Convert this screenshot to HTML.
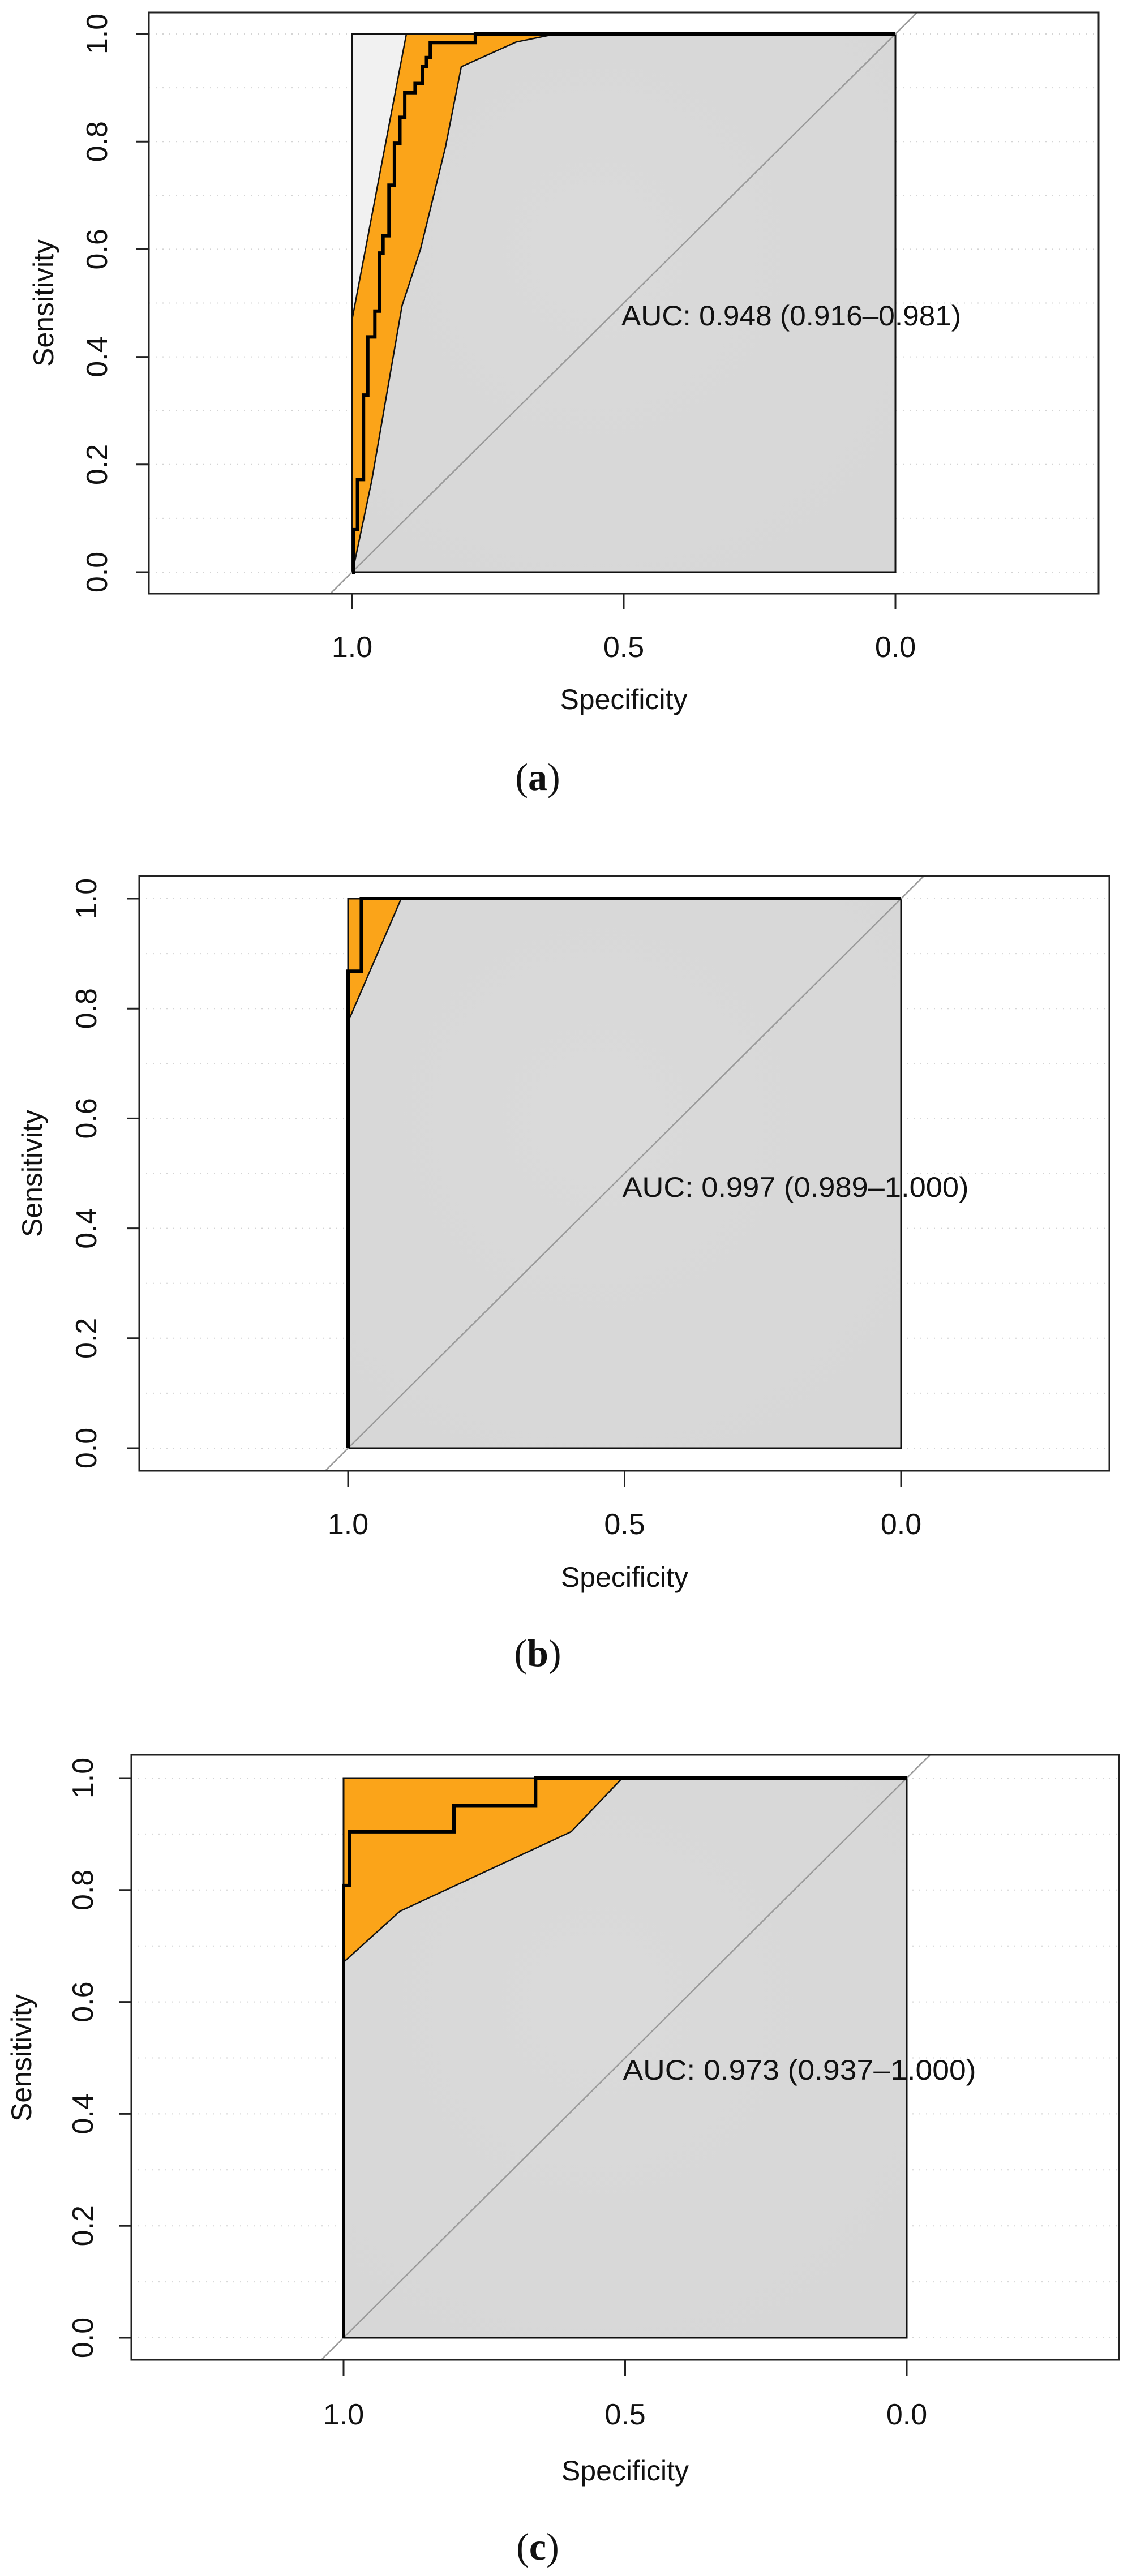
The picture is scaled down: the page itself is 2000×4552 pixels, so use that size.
<!DOCTYPE html>
<html><head><meta charset="utf-8"><title>ROC curves</title>
<style>
html,body{margin:0;padding:0;background:#fff;}
svg{display:block;}
text{font-family:"Liberation Sans",Arial,sans-serif;fill:#111;}
.cap{font-family:"Liberation Serif","Times New Roman",serif;}
</style></head>
<body>
<svg id="fig" width="2000" height="4552" viewBox="0 0 2000 4552" xmlns="http://www.w3.org/2000/svg">
<defs>
<radialGradient id="gg" cx="0.45" cy="0.4" r="0.7">
<stop offset="0" stop-color="#dadada"/><stop offset="1" stop-color="#d7d7d7"/>
</radialGradient>
</defs>
</svg>
<script>
// ---- Panel (a) data ----
const aRocSpec = [1,0.997,0.997,0.99,0.99,0.979,0.979,0.971,0.971,0.958,0.958,0.95,0.95,0.943,0.943,0.932,0.932,0.922,0.922,0.912,0.912,0.903,0.903,0.884,0.884,0.870,0.870,0.863,0.863,0.856,0.856,0.773,0.773,0];
const aRocSens = [0,0,0.079,0.079,0.172,0.172,0.329,0.329,0.437,0.437,0.485,0.485,0.593,0.593,0.625,0.625,0.719,0.719,0.797,0.797,0.845,0.845,0.891,0.891,0.908,0.908,0.94,0.94,0.956,0.956,0.984,0.984,1,1];
const aUpSpec = [1,1,0.9];
const aUpSens = [0,0.469,1];
const aLoSpec = [1,0.995,0.964,0.908,0.874,0.828,0.799,0.698,0.625,0];
const aLoSens = [0,0.02,0.169,0.495,0.6,0.79,0.939,0.985,1,1];
const aLabel = "AUC: 0.948 (0.916\u20130.981)";
// ---- Panel (b) data ----
const bRocSpec = [1,1,0.976,0.976,0];
const bRocSens = [0,0.868,0.868,1,1];
const bUpSpec = [1,1];
const bUpSens = [0,1];
const bLoSpec = [1,1,0.904,0];
const bLoSens = [0,0.776,1,1];
const bLabel = "AUC: 0.997 (0.989\u20131.000)";
// ---- Panel (c) data ----
const cRocSpec = [1,1,0.989,0.989,0.804,0.804,0.659,0.659,0];
const cRocSens = [0,0.808,0.808,0.904,0.904,0.951,0.951,1,1];
const cUpSpec = [1,1];
const cUpSens = [0,1];
const cLoSpec = [1,1,0.9,0.596,0.505,0];
const cLoSens = [0,0.671,0.762,0.904,1,1];
const cLabel = "AUC: 0.973 (0.937\u20131.000)";
// ---- shared tick labels ----
const yTicks = [0,0.2,0.4,0.6,0.8,1.0];
const yTickLabels = ["0.0","0.2","0.4","0.6","0.8","1.0"];
const xTicks = [1.0,0.5,0.0];
const xTickLabels = ["1.0","0.5","0.0"];

const NS = "http://www.w3.org/2000/svg";
const svg = document.getElementById('fig');
function mk(tag, attrs, parent){
  const e = document.createElementNS(NS, tag);
  for (const k in attrs) e.setAttribute(k, attrs[k]);
  (parent||svg).appendChild(e);
  return e;
}

function panel(id, L, letter, rocSp, rocSe, upSp, upSe, loSp, loSe, label){
  const g = mk('g', {});
  
  
  const X = s => L.x0 + (1 - s) * (L.xz - L.x0);
  const Y = v => L.y0 - v * (L.y0 - L.y1);
  const pts = (sp, se) => sp.map((s,i) => X(s).toFixed(1) + ',' + Y(se[i]).toFixed(1));

  for (let k = 0; k <= 10; k++) {
    const gl = mk('line', {x1:L.bx0, x2:L.bx1, y1:Y(k/10), y2:Y(k/10), stroke:'#d4d4d4', 'stroke-width':2, 'stroke-dasharray':'2,10'}, g);
    
    
  }
  const mp = mk('rect', {x:X(1), y:Y(1), width:X(0)-X(1), height:Y(0)-Y(1), fill:'#f1f1f1'}, g);
  
  
  const ap = mk('polygon', {points: pts(rocSp, rocSe).concat([X(0)+','+Y(0)]).join(' '), fill:'url(#gg)'}, g);
  
  
  const ciP = pts(upSp, upSe).concat(pts(loSp.slice().reverse(), loSe.slice().reverse()));
  const ci = mk('polygon', {points: ciP.join(' '), fill:'#fba419', stroke:'#111', 'stroke-width':2.5, 'stroke-linejoin':'round'}, g);
  
  
  const mb = mk('rect', {x:X(1), y:Y(1), width:X(0)-X(1), height:Y(0)-Y(1), fill:'none', stroke:'#111', 'stroke-width':3}, g);
  
  
  const cp = mk('clipPath', {id:'clip'+id}, g);
  mk('rect', {x:L.bx0, y:L.by0, width:L.bx1-L.bx0, height:L.by1-L.by0}, cp);
  const dg = mk('line', {x1:X(1.2), y1:Y(-0.2), x2:X(-0.2), y2:Y(1.2), stroke:'#9a9a9a', 'stroke-width':2.5, 'clip-path':'url(#clip'+id+')'}, g);
  
  
  const rc = mk('polyline', {points: pts(rocSp, rocSe).join(' '), fill:'none', stroke:'#000', 'stroke-width':6, 'stroke-linejoin':'miter'}, g);
  
  
  const ob = mk('rect', {x:L.bx0, y:L.by0, width:L.bx1-L.bx0, height:L.by1-L.by0, fill:'none', stroke:'#222', 'stroke-width':3}, g);
  
  
  yTicks.forEach((v,i) => {
    const t = mk('line', {x1:L.bx0-22, x2:L.bx0, y1:Y(v), y2:Y(v), stroke:'#222', 'stroke-width':3}, g);
    
    
    const tx = mk('text', {x:0, y:0, 'font-size':52, 'text-anchor':'middle', 'dominant-baseline':'central', transform:'translate('+L.ytx+','+Y(v)+') rotate(-90)'}, g);
    tx.textContent = yTickLabels[i];
    
    
  });
  const yt = mk('text', {x:0, y:0, 'font-size':50, 'text-anchor':'middle', 'dominant-baseline':'central', transform:'translate('+L.ylx+','+((Y(0)+Y(1))/2)+') rotate(-90)'}, g);
  yt.textContent = 'Sensitivity';
  
  
  xTicks.forEach((v,i) => {
    const t = mk('line', {x1:X(v), x2:X(v), y1:L.by1, y2:L.by1+28, stroke:'#222', 'stroke-width':3}, g);
    
    
    const tx = mk('text', {x:X(v), y:L.xty, 'font-size':52, 'text-anchor':'middle', 'dominant-baseline':'central'}, g);
    tx.textContent = xTickLabels[i];
    
    
  });
  const xt = mk('text', {x:X(0.5), y:L.xly, 'font-size':50, 'text-anchor':'middle', 'dominant-baseline':'central'}, g);
  xt.textContent = 'Specificity';
  
  
  const at = mk('text', {x:X(0.5)-4, y:L.auy, 'font-size':50, 'dominant-baseline':'central', textLength:L.aul, lengthAdjust:'spacingAndGlyphs'}, g);
  at.textContent = label;
  
  
  const cap = mk('text', {x:950, y:L.capy, 'font-size':68, 'text-anchor':'middle', 'dominant-baseline':'central', class:'cap'}, g);
  cap.appendChild(document.createTextNode('('));
  const b = mk('tspan', {'font-weight':'bold'}, cap); b.textContent = letter;
  cap.appendChild(document.createTextNode(')'));
  
  
}

panel('a', {bx0:263,bx1:1941,by0:22,by1:1049,x0:622,xz:1582,y0:1011,y1:60,ytx:172,ylx:77,xty:1144,xly:1236,auy:558,aul:600,capy:1373}, 'a', aRocSpec, aRocSens, aUpSpec, aUpSens, aLoSpec, aLoSens, aLabel);
panel('b', {bx0:246,bx1:1960,by0:1548,by1:2599,x0:615,xz:1592,y0:2559,y1:1588,ytx:153,ylx:57,xty:2694,xly:2787,auy:2098,aul:612,capy:2921}, 'b', bRocSpec, bRocSens, bUpSpec, bUpSens, bLoSpec, bLoSens, bLabel);
panel('c', {bx0:232,bx1:1977,by0:3101,by1:4170,x0:607,xz:1602,y0:4131,y1:3142,ytx:147,ylx:38,xty:4267,xly:4366,auy:3658,aul:624,capy:4500}, 'c', cRocSpec, cRocSens, cUpSpec, cUpSens, cLoSpec, cLoSens, cLabel);
</script>
</body></html>
